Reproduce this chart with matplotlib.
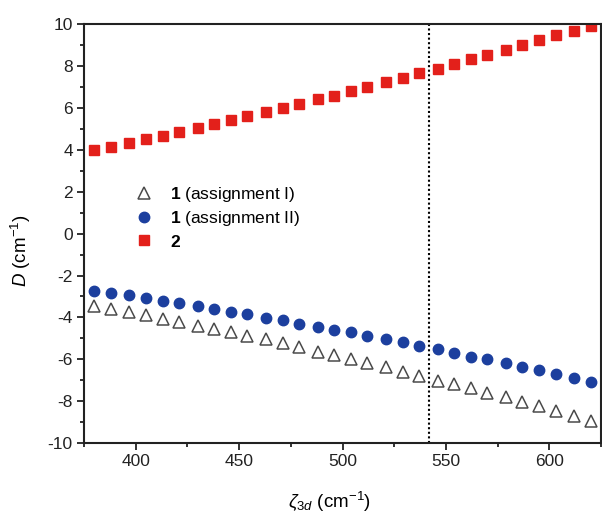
import matplotlib.pyplot as plt
from matplotlib.ticker import MultipleLocator

plt.rcParams['font.family'] = ['Liberation Sans', 'DejaVu Sans']
plt.rcParams['mathtext.fontset'] = 'custom'
plt.rcParams['mathtext.rm'] = 'Liberation Sans'
plt.rcParams['mathtext.it'] = 'Liberation Sans:italic'
plt.rcParams['mathtext.bf'] = 'Liberation Sans:bold'
plt.rcParams['axes.unicode_minus'] = False

# spin-orbit coupling constant (cm^-1)
zeta = [380, 388, 397, 405, 413, 421, 430, 438, 446, 454,
        463, 471, 479, 488, 496, 504, 512, 521, 529, 537,
        546, 554, 562, 570, 579, 587, 595, 603, 612, 620]

# D for compound 1, assignment I
d_1_I = [-3.46, -3.60, -3.76, -3.90, -4.07, -4.22, -4.40, -4.56, -4.72, -4.89,
         -5.05, -5.21, -5.43, -5.64, -5.80, -5.99, -6.20, -6.36, -6.60, -6.79,
         -7.03, -7.20, -7.39, -7.60, -7.82, -8.03, -8.22, -8.46, -8.70, -8.95]

# D for compound 1, assignment II
d_1_II = [-2.73, -2.84, -2.95, -3.09, -3.22, -3.33, -3.47, -3.60, -3.73, -3.86,
          -4.02, -4.14, -4.30, -4.45, -4.59, -4.72, -4.89, -5.04, -5.18, -5.37,
          -5.51, -5.72, -5.88, -6.00, -6.20, -6.36, -6.52, -6.71, -6.87, -7.07]

# D for compound 2
d_2 = [3.99, 4.14, 4.31, 4.51, 4.67, 4.84, 5.02, 5.23, 5.42, 5.61,
       5.79, 5.98, 6.17, 6.41, 6.58, 6.80, 7.01, 7.22, 7.44, 7.65,
       7.87, 8.08, 8.32, 8.53, 8.76, 9.00, 9.24, 9.47, 9.68, 9.90]

zeta_free_ion = 542

fig = plt.figure(figsize=(6.02, 5.14), dpi=100)
ax = fig.add_axes([0.1395, 0.138, 0.859, 0.815])

ax.plot(zeta, d_1_I, linestyle='none', marker='^', ms=9, mfc='white',
        mec='#4a4a4a', mew=1.1, label=r'$\mathbf{1}$ (assignment I)')
ax.plot(zeta, d_1_II, linestyle='none', marker='o', ms=7.5, mfc='#1c3f9e',
        mec='#1c3f9e', label=r'$\mathbf{1}$ (assignment II)')
ax.plot(zeta, d_2, linestyle='none', marker='s', ms=7, mfc='#e3201b',
        mec='#e3201b', label=r'$\mathbf{2}$')

ax.axvline(zeta_free_ion, color='black', linestyle=(0, (1, 1.2)), lw=1.5)

ax.set_xlim(375, 625)
ax.set_ylim(-10, 10)
ax.xaxis.set_major_locator(MultipleLocator(50))
ax.xaxis.set_minor_locator(MultipleLocator(25))
ax.yaxis.set_major_locator(MultipleLocator(2))
ax.yaxis.set_minor_locator(MultipleLocator(1))
ax.tick_params(which='both', direction='out', width=1.3, labelsize=12.5,
               colors='#222222', pad=3)
ax.tick_params(which='major', length=5)
ax.tick_params(which='minor', length=3)
for s in ax.spines.values():
    s.set_linewidth(1.5)
    s.set_color('#222222')

ax.set_xlabel(r'$\zeta_{3d}$ (cm$^{-1}$)', fontsize=13.5)
ax.xaxis.set_label_coords(0.475, -0.112)
ax.set_ylabel(r'$D$ (cm$^{-1}$)', fontsize=13.5)
ax.yaxis.set_label_coords(-0.098, 0.46)

ax.legend(loc='upper left', bbox_to_anchor=(0.066, 0.653), frameon=False,
          fontsize=12.5, handletextpad=0.9, labelspacing=0.3,
          handlelength=1.2)

fig.savefig('out.png', dpi=100)
